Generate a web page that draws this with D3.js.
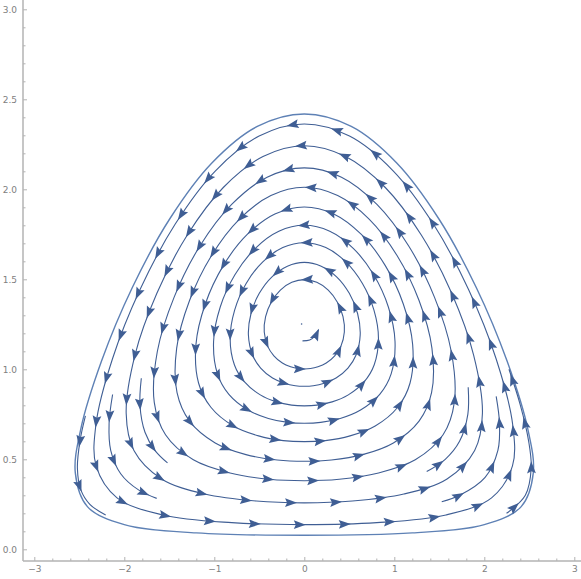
<!DOCTYPE html>
<html>
<head>
<meta charset="utf-8">
<script src="https://cdn.jsdelivr.net/npm/d3@7"></script>
<style>
body { margin: 0; background: #fff; }
svg { display: block; font-family: "DejaVu Sans", sans-serif; }
</style>
</head>
<body>
<svg id="chart" width="581" height="579"></svg>
<script>
var w = 581, h = 579;

// tick labels
var xTicks = [-3, -2, -1, 0, 1, 2, 3];
var yTicks = [0, 0.5, 1, 1.5, 2, 2.5, 3];

// closed orbit drawn without arrows (outer curve) [x, y]
var outerCurve = [[0,2.418],[-0.522,2.349],[-1.027,2.146],[-1.496,1.835],[-1.912,1.453],[-2.252,1.047],[-2.485,0.665],
  [-2.544,0.423],[-2.41,0.237],[-2.0,0.137],[-1.2,0.091],[0,0.078],[1.2,0.091],[2.0,0.137],[2.41,0.237],[2.544,0.423],
  [2.485,0.665],[2.252,1.047],[1.912,1.453],[1.496,1.835],[1.027,2.146],[0.522,2.349]];

// stream lines (counter-clockwise), outermost first
var loop9 = [[0,2.363],[-0.502,2.296],[-0.987,2.103],[-1.434,1.807],[-1.825,1.443],[-2.132,1.057],[-2.315,0.694],
  [-2.313,0.463],[-2.081,0.286],[-1.574,0.191],[-0.806,0.148],[0,0.137],[0.806,0.148],[1.574,0.191],[2.081,0.286],
  [2.313,0.463],[2.315,0.694],[2.132,1.057],[1.825,1.443],[1.434,1.807],[0.987,2.103],[0.502,2.296]];
var loop8 = [[0,2.242],[-0.459,2.182],[-0.9,2.01],[-1.3,1.746],[-1.638,1.422],[-1.882,1.078],[-1.979,0.754],
  [-1.893,0.549],[-1.586,0.391],[-1.106,0.307],[-0.534,0.268],[0,0.258],[0.534,0.268],[1.106,0.307],[1.586,0.391],
  [1.893,0.549],[1.979,0.754],[1.882,1.078],[1.638,1.422],[1.3,1.746],[0.9,2.01],[0.459,2.182]];
var loop7 = [[0,2.119],[-0.413,2.067],[-0.807,1.916],[-1.16,1.685],[-1.446,1.401],[-1.633,1.099],[-1.667,0.816],
  [-1.542,0.636],[-1.233,0.497],[-0.825,0.424],[-0.388,0.389],[0,0.381],[0.388,0.389],[0.825,0.424],[1.233,0.497],
  [1.542,0.636],[1.667,0.816],[1.633,1.099],[1.446,1.401],[1.16,1.685],[0.807,1.916],[0.413,2.067]];
var loop6 = [[0,2.011],[-0.371,1.965],[-0.723,1.833],[-1.032,1.631],[-1.275,1.382],[-1.418,1.118],[-1.414,0.87],
  [-1.275,0.712],[-0.99,0.591],[-0.648,0.526],[-0.301,0.496],[0,0.489],[0.301,0.496],[0.648,0.526],[0.99,0.591],
  [1.275,0.712],[1.414,0.87],[1.418,1.118],[1.275,1.382],[1.032,1.631],[0.723,1.833],[0.371,1.965]];
var loop5 = [[0,1.902],[-0.327,1.863],[-0.634,1.749],[-0.9,1.576],[-1.1,1.363],[-1.204,1.137],[-1.175,0.924],
  [-1.038,0.789],[-0.788,0.685],[-0.508,0.63],[-0.234,0.604],[0,0.598],[0.234,0.604],[0.508,0.63],[0.788,0.685],
  [1.038,0.789],[1.175,0.924],[1.204,1.137],[1.1,1.363],[0.9,1.576],[0.634,1.749],[0.327,1.863]];
var loop4 = [[0,1.8],[-0.283,1.767],[-0.547,1.671],[-0.771,1.525],[-0.934,1.346],[-1.008,1.155],[-0.965,0.975],
  [-0.838,0.861],[-0.625,0.774],[-0.399,0.727],[-0.182,0.705],[0,0.7],[0.182,0.705],[0.399,0.727],[0.625,0.774],
  [0.838,0.861],[0.965,0.975],[1.008,1.155],[0.934,1.346],[0.771,1.525],[0.547,1.671],[0.283,1.767]];
var loop3 = [[0,1.703],[-0.239,1.676],[-0.461,1.597],[-0.646,1.477],[-0.774,1.329],[-0.824,1.171],[-0.776,1.024],
  [-0.664,0.93],[-0.489,0.858],[-0.309,0.819],[-0.141,0.801],[0,0.797],[0.141,0.801],[0.309,0.819],[0.489,0.858],
  [0.664,0.93],[0.776,1.024],[0.824,1.171],[0.774,1.329],[0.646,1.477],[0.461,1.597],[0.239,1.676]];
var loop2 = [[0,1.594],[-0.188,1.573],[-0.359,1.514],[-0.5,1.422],[-0.592,1.31],[-0.621,1.19],[-0.574,1.078],
  [-0.485,1.007],[-0.353,0.952],[-0.221,0.923],[-0.1,0.909],[0,0.906],[0.1,0.909],[0.221,0.923],[0.353,0.952],
  [0.485,1.007],[0.574,1.078],[0.621,1.19],[0.592,1.31],[0.5,1.422],[0.359,1.514],[0.188,1.573]];
var loop1 = [[0,1.498],[-0.139,1.483],[-0.266,1.44],[-0.366,1.374],[-0.43,1.293],[-0.445,1.207],[-0.405,1.126],
  [-0.338,1.075],[-0.244,1.035],[-0.152,1.014],[-0.069,1.004],[0,1.002],[0.069,1.004],[0.152,1.014],[0.244,1.035],
  [0.338,1.075],[0.405,1.126],[0.445,1.207],[0.43,1.293],[0.366,1.374],[0.266,1.44],[0.139,1.483]];

// short stream pieces in the wide lower corners
var pieceOuterL = [[-2.432,0.741],[-2.493,0.6],[-2.521,0.45],[-2.483,0.33],[-2.383,0.25],[-2.207,0.19]];
var pieceOuterR = [[2.247,0.2],[2.456,0.3],[2.521,0.45],[2.493,0.6],[2.401,0.8],[2.274,1.0]];
var pieceMidL = [[-2.13,0.86],[-2.169,0.7],[-2.151,0.55],[-2.04,0.42],[-1.842,0.33],[-1.64,0.283]];
var pieceMidR = [[1.527,0.264],[1.726,0.3],[2.009,0.4],[2.151,0.55],[2.169,0.7],[2.132,0.85]];
var pieceInL = [[-1.811,0.95],[-1.826,0.8],[-1.77,0.65],[-1.66,0.55],[-1.52,0.48]];
var pieceInR = [[1.36,0.432],[1.566,0.5],[1.725,0.6],[1.817,0.75],[1.821,0.9]];
var innerArc = [[-0.02,1.158],[0.06,1.163],[0.12,1.185],[0.158,1.22]];
var centerDot = [-0.03, 1.252];

var loops = [loop9, loop8, loop7, loop6, loop5, loop4, loop3, loop2, loop1];
var loopPhase = [26, 21, 12, 41, 32, 37, 20, 16, 30];
var pieces = [pieceOuterL, pieceOuterR, pieceMidL, pieceMidR, pieceInL, pieceInR];
var piecePhase = [30, 14, 26, 22, 30, 18];

var streamColor = "#3f5e94";
var outerColor = "#5e81b5";
var axisColor = "#b3b3b3";
var arrowStep = 45;
var arrowShape = "M2,0L-10,-4.4L-8,0L-10,4.4Z";

var svg = d3.select("#chart");

var x = d3.scaleLinear().domain([-3, 3]).range([34.3, 574.3]);
var y = d3.scaleLinear().domain([0, 3]).range([549.3, 9.3]);

var axisX0 = 23, axisY0 = 561;

// axes
var xMinor = d3.range(-30, 31, 2).map(function(d) { return d / 10; }).filter(function(d) { return xTicks.indexOf(d) < 0; });
var yMinor = d3.range(0, 31, 1).map(function(d) { return d / 10; }).filter(function(d) { return yTicks.indexOf(d) < 0; });

var gx = svg.append("g").attr("transform", "translate(0," + axisY0 + ")");
gx.call(d3.axisBottom(x).tickValues(xTicks).tickSize(-4).tickPadding(4.5).tickFormat(d3.format("d")));
gx.append("g").call(d3.axisBottom(x).tickValues(xMinor).tickSize(-2.5).tickFormat(""));

var gy = svg.append("g").attr("transform", "translate(" + axisX0 + ",0)");
gy.call(d3.axisLeft(y).tickValues(yTicks).tickSize(-4).tickPadding(6).tickFormat(d3.format(".1f")));
gy.append("g").call(d3.axisLeft(y).tickValues(yMinor).tickSize(-2.5).tickFormat(""));

svg.selectAll(".domain").remove();
svg.selectAll(".tick line").attr("stroke", axisColor);
svg.selectAll(".tick text").attr("fill", "#808080").attr("font-size", 9).attr("font-family", "DejaVu Sans, sans-serif");

svg.append("line").attr("x1", axisX0).attr("x2", w).attr("y1", axisY0).attr("y2", axisY0)
  .attr("stroke", axisColor).attr("stroke-width", 1.5);
svg.append("line").attr("x1", axisX0).attr("x2", axisX0).attr("y1", 0).attr("y2", axisY0)
  .attr("stroke", axisColor).attr("stroke-width", 1.5);

// stream plot
var closedLine = d3.line().x(function(d) { return x(d[0]); }).y(function(d) { return y(d[1]); })
  .curve(d3.curveCatmullRomClosed.alpha(0.5));
var openLine = d3.line().x(function(d) { return x(d[0]); }).y(function(d) { return y(d[1]); })
  .curve(d3.curveCatmullRom.alpha(0.5));

var plot = svg.append("g");

plot.append("path").attr("d", closedLine(outerCurve)).attr("fill", "none")
  .attr("stroke", outerColor).attr("stroke-width", 1.4);

function addArrows(node, phase, lastOnly) {
  var len = node.getTotalLength();
  var spots = [];
  if (lastOnly) spots.push(len - 1);
  else for (var s = phase; s < len - 4; s += arrowStep) spots.push(s);
  spots.forEach(function(s) {
    var a = node.getPointAtLength(Math.max(s - 1.5, 0));
    var b = node.getPointAtLength(Math.min(s + 1.5, len));
    var p = node.getPointAtLength(s);
    var ang = Math.atan2(b.y - a.y, b.x - a.x) * 180 / Math.PI;
    plot.append("path").attr("d", arrowShape)
      .attr("transform", "translate(" + p.x + "," + p.y + ") rotate(" + ang + ")")
      .attr("fill", streamColor);
  });
}

loops.forEach(function(pts, i) {
  var p = plot.append("path").attr("d", closedLine(pts)).attr("fill", "none")
    .attr("stroke", streamColor).attr("stroke-width", 1.1);
  addArrows(p.node(), loopPhase[i]);
});

pieces.forEach(function(pts, i) {
  var p = plot.append("path").attr("d", openLine(pts)).attr("fill", "none")
    .attr("stroke", streamColor).attr("stroke-width", 1.1);
  addArrows(p.node(), piecePhase[i]);
});

var arc = plot.append("path").attr("d", openLine(innerArc)).attr("fill", "none")
  .attr("stroke", streamColor).attr("stroke-width", 1.1);
addArrows(arc.node(), 0, true);

plot.append("circle").attr("cx", x(centerDot[0])).attr("cy", y(centerDot[1])).attr("r", 0.8).attr("fill", streamColor);
</script>
</body>
</html>
